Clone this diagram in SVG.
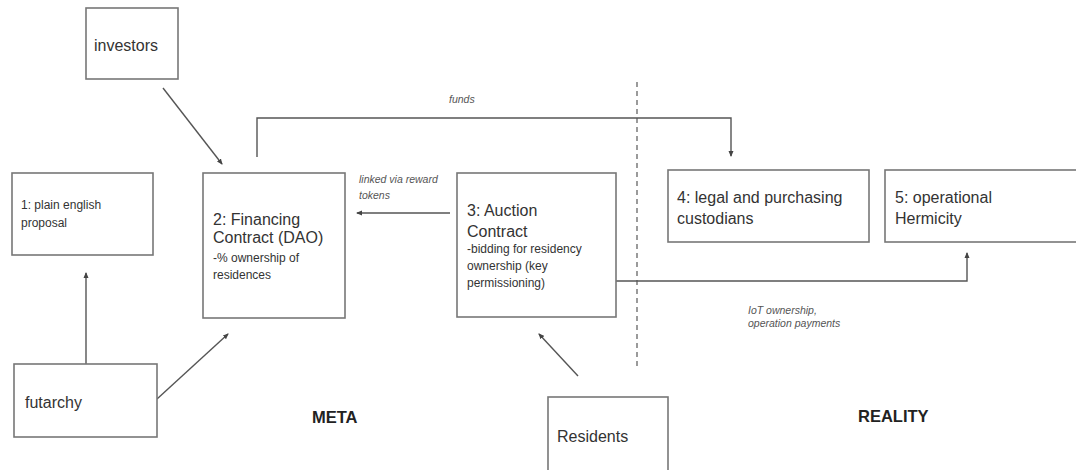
<svg xmlns="http://www.w3.org/2000/svg" width="1076" height="470" viewBox="0 0 1076 470">
<defs>
<style>
.box{fill:#fff;stroke:#777;stroke-width:1.6}
.t{font-family:"Liberation Sans",Arial,sans-serif;fill:#333}
.big{font-size:16px}
.sm{font-size:12px}
.it{font-size:10.5px;font-style:italic;fill:#555}
.hd{font-size:16.5px;font-weight:bold;fill:#222}
.ln{fill:none;stroke:#555;stroke-width:1.4}
.dash{fill:none;stroke:#666;stroke-width:1.3;stroke-dasharray:5,4}
</style>
<marker id="ah" markerWidth="6" markerHeight="6" refX="5" refY="3" orient="auto" markerUnits="userSpaceOnUse">
<path d="M0,0.5 L6,3 L0,5.5 Z" fill="#444"/>
</marker>
</defs>
<rect width="1076" height="470" fill="#fff"/>

<g id="connectors">
<line class="dash" x1="637" y1="82" x2="637" y2="370"/>
<line class="ln" x1="163" y1="88" x2="222" y2="164" marker-end="url(#ah)"/>
<path class="ln" d="M257,157 V118 H731 V156" marker-end="url(#ah)"/>
<line class="ln" x1="450" y1="213" x2="357" y2="213" marker-end="url(#ah)"/>
<path class="ln" d="M616,281 H967 V253" marker-end="url(#ah)"/>
<line class="ln" x1="86" y1="364" x2="86" y2="273" marker-end="url(#ah)"/>
<line class="ln" x1="157" y1="399" x2="228" y2="334" marker-end="url(#ah)"/>
<line class="ln" x1="578" y1="376" x2="539" y2="334" marker-end="url(#ah)"/>
<text class="t it" x="449" y="103">funds</text>
<text class="t it" x="359" y="183">linked via reward</text>
<text class="t it" x="359" y="199">tokens</text>
<text class="t it" x="748" y="314">IoT ownership,</text>
<text class="t it" x="748" y="327">operation payments</text>
</g>

<g id="investors">
<rect class="box" x="86" y="8" width="92" height="71"/>
<text class="t big" x="94" y="51">investors</text>
</g>

<g id="proposal">
<rect class="box" x="12" y="173" width="141" height="82"/>
<text class="t sm" x="21" y="209">1: plain english</text>
<text class="t sm" x="21" y="227">proposal</text>
</g>

<g id="financing">
<rect class="box" x="203" y="173" width="142" height="145"/>
<text class="t big" x="213" y="225">2: Financing</text>
<text class="t big" x="213" y="243">Contract (DAO)</text>
<text class="t sm" x="213" y="262">-% ownership of</text>
<text class="t sm" x="213" y="279">residences</text>
</g>

<g id="auction">
<rect class="box" x="457" y="173" width="159" height="144"/>
<text class="t big" x="467" y="216">3: Auction</text>
<text class="t big" x="467" y="237">Contract</text>
<text class="t sm" x="467" y="253">-bidding for residency</text>
<text class="t sm" x="467" y="270">ownership (key</text>
<text class="t sm" x="467" y="287">permissioning)</text>
</g>

<g id="custodians">
<rect class="box" x="668" y="170" width="201" height="72"/>
<text class="t big" x="677" y="203">4: legal and purchasing</text>
<text class="t big" x="677" y="224">custodians</text>
</g>

<g id="hermicity">
<rect class="box" x="885" y="170" width="200" height="72"/>
<text class="t big" x="895" y="203">5: operational</text>
<text class="t big" x="895" y="224">Hermicity</text>
</g>

<g id="futarchy">
<rect class="box" x="14" y="364" width="143" height="73"/>
<text class="t big" x="25" y="408">futarchy</text>
</g>

<g id="residents">
<rect class="box" x="548" y="397" width="120" height="80"/>
<text class="t big" x="557" y="442">Residents</text>
</g>

<g id="labels">
<text class="t hd" x="312" y="423">META</text>
<text class="t hd" x="858" y="422">REALITY</text>
</g>
</svg>
